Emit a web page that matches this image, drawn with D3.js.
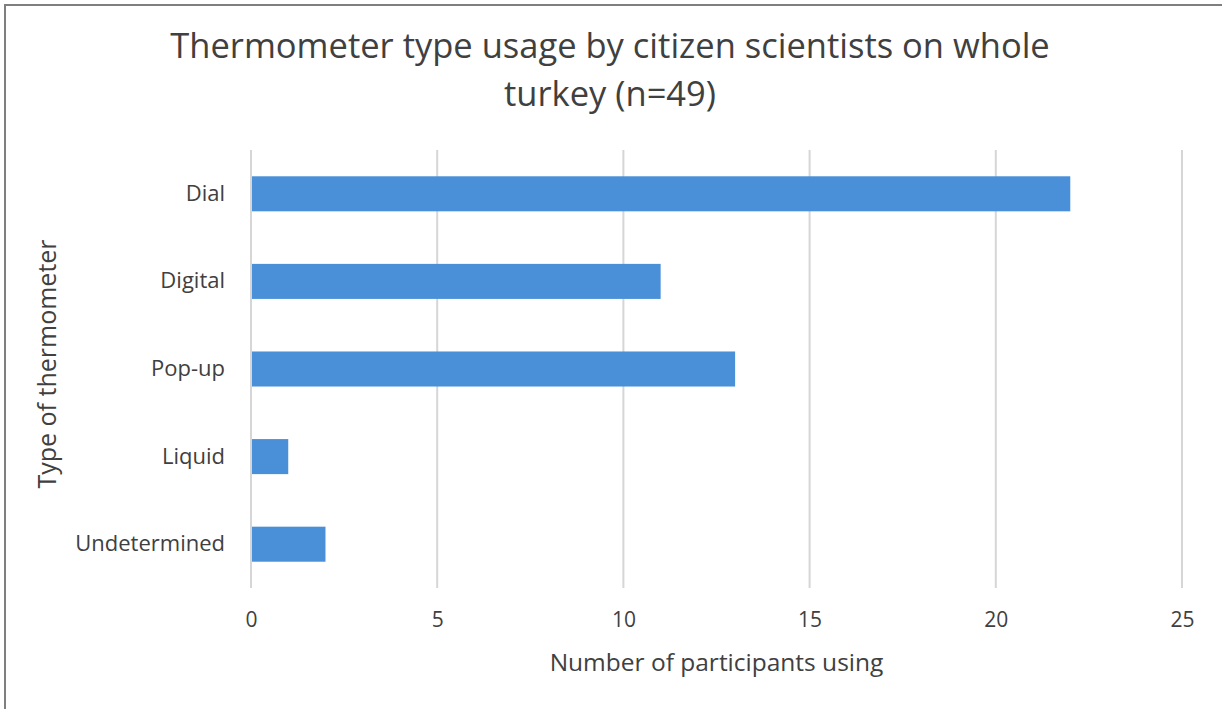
<!DOCTYPE html>
<html>
<head>
<meta charset="utf-8">
<script src="https://cdn.jsdelivr.net/npm/d3@7"></script>
<style>
  body { margin: 0; background: #fff; }
  svg { display: block; font-family: "Open Sans", sans-serif; }
</style>
</head>
<body>
<svg id="chart"></svg>
<script>
// data
const categories = ["Dial", "Digital", "Pop-up", "Liquid", "Undetermined"];
const values = [22, 11, 13, 1, 2];
const xTicks = [0, 5, 10, 15, 20, 25];
const titleLines = ["Thermometer type usage by citizen scientists on whole", "turkey (n=49)"];

const width = 1222, height = 709;
const plot = { left: 251, right: 1182, top: 150, bottom: 588 };

const svg = d3.select("#chart").attr("width", width).attr("height", height);

// frame
svg.append("path")
  .attr("d", `M5,${height} L5,5 L${width},5`)
  .attr("fill", "none")
  .attr("stroke", "#7f7f7f")
  .attr("stroke-width", 2);

const x = d3.scaleLinear().domain([0, 25]).range([plot.left, plot.right]);
const y = d3.scaleBand().domain(categories).range([plot.top, plot.bottom]).paddingInner(0.6).paddingOuter(0.3);

// gridlines
svg.append("g").selectAll("line")
  .data(xTicks)
  .join("line")
  .attr("x1", d => x(d)).attr("x2", d => x(d))
  .attr("y1", plot.top).attr("y2", plot.bottom)
  .attr("stroke", "#d6d6d6")
  .attr("stroke-width", 2);

// bars
svg.append("g").selectAll("rect")
  .data(categories)
  .join("rect")
  .attr("x", x(0) + 1)
  .attr("y", d => y(d))
  .attr("width", (d, i) => x(values[i]) - x(0) - 1)
  .attr("height", y.bandwidth())
  .attr("fill", "#4a90d9");

// x axis labels
const xAxis = svg.append("g")
  .attr("transform", `translate(0,${plot.bottom + 10})`)
  .call(d3.axisBottom(x).tickValues(xTicks).tickSize(0).tickPadding(14));
xAxis.select(".domain").remove();
xAxis.selectAll("text").attr("font-size", 21).attr("fill", "#404040").attr("font-family", "Open Sans, sans-serif");

// y axis labels
const yAxis = svg.append("g")
  .attr("transform", `translate(${plot.left - 26},0)`)
  .call(d3.axisLeft(y).tickSize(0).tickPadding(0));
yAxis.select(".domain").remove();
yAxis.selectAll("text").attr("font-size", 22).attr("fill", "#404040").attr("font-family", "Open Sans, sans-serif");

// axis titles
svg.append("text")
  .attr("x", (plot.left + plot.right) / 2)
  .attr("y", 671)
  .attr("text-anchor", "middle")
  .attr("font-size", 24.5)
  .attr("fill", "#404040")
  .text("Number of participants using");

svg.append("text")
  .attr("transform", `translate(56,${(plot.top + plot.bottom) / 2 - 5}) rotate(-90)`)
  .attr("text-anchor", "middle")
  .attr("font-size", 25)
  .attr("fill", "#404040")
  .text("Type of thermometer");

// title
svg.append("g").selectAll("text")
  .data(titleLines)
  .join("text")
  .attr("x", 610)
  .attr("y", (d, i) => 58 + i * 48)
  .attr("text-anchor", "middle")
  .attr("font-size", 34.5)
  .attr("fill", "#404040")
  .text(d => d);
</script>
</body>
</html>
